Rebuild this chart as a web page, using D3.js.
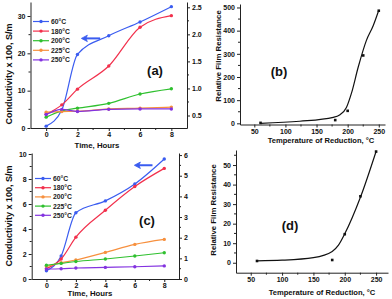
<!DOCTYPE html>
<html>
<head>
<meta charset="utf-8">
<script src="https://cdn.jsdelivr.net/npm/d3@7"></script>
<style>
  body { margin: 0; background: #fff; }
  svg { display: block; font-family: "Liberation Sans", Arial, sans-serif; font-weight: bold; }
  .axis path, .axis line { stroke: #222; }
  .axis text { font-size: 7px; font-weight: bold; fill: #111; font-family: "Liberation Sans", Arial, sans-serif; }
</style>
</head>
<body>
<svg id="chart" width="392" height="299"></svg>
<script>
// time axis for panels (a) and (c)
const hours = [0, 1, 2, 4, 6, 8];
const legendA = ["60°C", "180°C", "200°C", "225°C", "250°C"];
const legendC = ["60°C", "180°C", "200°C", "225°C", "250°C"];

// panel (a), conductivity x 100
const a60 = [0.5, 4.8, 19.7, 24.7, 28.4, 32.5];
const a180 = [3.7, 6.2, 10.4, 16.6, 27.0, 30.1];
const a200 = [2.9, 4.6, 5.3, 6.6, 9.1, 10.5];
const a225 = [4.25, 4.4, 4.5, 5.1, 5.3, 5.6];
const a250 = [3.6, 5.0, 4.4, 5.0, 5.1, 5.1];

// panel (c), conductivity x 100
const c60 = [0.66, 1.84, 5.3, 6.25, 7.6, 9.6];
const c180 = [0.83, 1.6, 3.35, 5.5, 7.4, 8.85];
const c200 = [1.0, 1.3, 1.52, 2.13, 2.77, 3.17];
const c225 = [1.1, 1.25, 1.4, 1.6, 1.84, 2.1];
const c250 = [0.8, 0.82, 0.88, 0.93, 0.98, 1.05];

// panels (b) and (d), relative film resistance vs temperature
const temps = [60, 180, 200, 225, 250];
const resB = [2, 14, 54, 293, 486];
const fitBx = [60, 123, 177, 187, 198, 206, 217, 230, 241, 250];
const fitBy = [0, 9, 26, 36, 68, 129, 243, 357, 421, 488];
const resD = [0.9, 1.4, 14.6, 34, 56.9];
const fitDx = [60, 100, 150, 180, 190, 200, 225, 250];
const fitDy = [1, 1.3, 2.6, 5.8, 9, 14.8, 33.5, 57];

const blue = "#3a5cf0", red = "#f2304c", green = "#2fc02f", orange = "#f7903e", purple = "#8332e0";
const colorsA = [blue, red, green, orange, purple];
const colorsC = [blue, red, orange, green, purple];

const svg = d3.select("#chart");

function minorTicks(g, scale, values, orient, size) {
    values.forEach(v => {
        const p = scale(v);
        if (orient === "left") g.append("line").attr("x1", 0).attr("x2", -size).attr("y1", p).attr("y2", p);
        if (orient === "right") g.append("line").attr("x1", 0).attr("x2", size).attr("y1", p).attr("y2", p);
        if (orient === "bottom") g.append("line").attr("y1", 0).attr("y2", size).attr("x1", p).attr("x2", p);
    });
    g.selectAll("line").attr("stroke", "#222");
}

function timePanel(opt) {
    const x = d3.scaleLinear().domain([-1, 9]).range([opt.left, opt.right]);
    const yL = d3.scaleLinear().domain(opt.yL).range([opt.bottom, opt.top]);
    const yR = d3.scaleLinear().domain(opt.yR).range([opt.bottom, opt.top]);

    const gx = svg.append("g").attr("class", "axis")
        .attr("transform", "translate(0," + opt.bottom + ")")
        .call(d3.axisBottom(x).tickValues([0, 2, 4, 6, 8]).tickSize(3).tickSizeOuter(0).tickPadding(1.5));
    minorTicks(gx.append("g"), x, [1, 3, 5, 7], "bottom", 2);

    const gl = svg.append("g").attr("class", "axis")
        .attr("transform", "translate(" + opt.left + ",0)")
        .call(d3.axisLeft(yL).tickValues(opt.ticksL).tickSize(3).tickSizeOuter(0).tickPadding(2));
    minorTicks(gl.append("g"), yL, opt.minorL, "left", 2);

    const gr = svg.append("g").attr("class", "axis")
        .attr("transform", "translate(" + opt.right + ",0)")
        .call(d3.axisRight(yR).tickValues(opt.ticksR).tickFormat(opt.fmtR).tickSize(3).tickSizeOuter(0).tickPadding(2));
    minorTicks(gr.append("g"), yR, opt.minorR, "right", 2);

    const line = d3.line().x((d, i) => x(hours[i])).y(d => yL(d)).curve(d3.curveMonotoneX);

    opt.series.forEach((s, k) => {
        svg.append("path").attr("d", line(s)).attr("fill", "none")
            .attr("stroke", opt.colors[k]).attr("stroke-width", 1.2);
        svg.append("g").selectAll("circle").data(s).enter().append("circle")
            .attr("cx", (d, i) => x(hours[i])).attr("cy", d => yL(d))
            .attr("r", 1.7).attr("fill", opt.colors[k]);
    });

    // legend
    opt.legend.forEach((t, k) => {
        const y = opt.legY + k * opt.legStep;
        svg.append("line").attr("x1", opt.legX).attr("x2", opt.legX + 16).attr("y1", y).attr("y2", y)
            .attr("stroke", opt.colors[k]).attr("stroke-width", 1.2);
        svg.append("circle").attr("cx", opt.legX + 8).attr("cy", y).attr("r", 1.7).attr("fill", opt.colors[k]);
        svg.append("text").attr("x", opt.legX + 18).attr("y", y + 2.5)
            .style("font-size", "6.8px").attr("fill", "#222").text(t);
    });

    // arrow pointing to the left axis
    const ax0 = x(opt.arrow[0]), ax1 = x(opt.arrow[1]), ay = yL(opt.arrow[2]);
    svg.append("line").attr("x1", ax0).attr("x2", ax1 + 4).attr("y1", ay).attr("y2", ay)
        .attr("stroke", blue).attr("stroke-width", 2);
    svg.append("path")
        .attr("d", "M" + ax1 + "," + ay + "L" + (ax1 + 6) + "," + (ay - 3.2) + "L" + (ax1 + 4.5) + "," + ay + "L" + (ax1 + 6) + "," + (ay + 3.2) + "Z")
        .attr("fill", blue).attr("stroke", blue).attr("stroke-width", 0.8);

    svg.append("text").attr("x", opt.tag[0]).attr("y", opt.tag[1] + 4.5).attr("text-anchor", "middle")
        .style("font-size", "13px").attr("fill", "#111").text(opt.label);

    svg.append("text").attr("transform", "translate(" + opt.yTitle[0] + "," + opt.yTitle[1] + ") rotate(-90)")
        .attr("text-anchor", "middle").attr("dy", "0.35em")
        .style("font-size", "9px").attr("fill", "#111").text("Conductivity x 100, S/m");

    svg.append("text").attr("x", opt.xTitle[0]).attr("y", opt.xTitle[1]).attr("text-anchor", "middle")
        .attr("dy", "0.35em").style("font-size", "7.8px").attr("fill", "#111").text("Time, Hours");
}

function tempPanel(opt) {
    const x = d3.scaleLinear().domain(opt.xd).range([opt.left, opt.right]);
    const y = d3.scaleLinear().domain(opt.yd).range([opt.bottom, opt.top]);

    const gx = svg.append("g").attr("class", "axis")
        .attr("transform", "translate(0," + opt.bottom + ")")
        .call(d3.axisBottom(x).tickValues([50, 100, 150, 200, 250]).tickSize(3).tickSizeOuter(0).tickPadding(1.5));
    minorTicks(gx.append("g"), x, [75, 125, 175, 225], "bottom", 2);

    const gy = svg.append("g").attr("class", "axis")
        .attr("transform", "translate(" + opt.left + ",0)")
        .call(d3.axisLeft(y).tickValues(opt.ticks).tickSize(3).tickSizeOuter(0).tickPadding(2));
    minorTicks(gy.append("g"), y, opt.minor, "left", 2);

    const line = d3.line().x((d, i) => x(opt.fx[i])).y(d => y(d)).curve(d3.curveMonotoneX);
    svg.append("path").attr("d", line(opt.fy)).attr("fill", "none")
        .attr("stroke", "#111").attr("stroke-width", 1.2);

    svg.append("g").selectAll("rect").data(opt.res).enter().append("rect")
        .attr("x", (d, i) => x(temps[i]) - 1.3).attr("y", d => y(d) - 1.3)
        .attr("width", 2.6).attr("height", 2.6).attr("fill", "#111");

    svg.append("text").attr("x", opt.tag[0]).attr("y", opt.tag[1] + 4.5).attr("text-anchor", "middle")
        .style("font-size", "13px").attr("fill", "#111").text(opt.label);

    svg.append("text").attr("transform", "translate(" + opt.yTitle[0] + "," + opt.yTitle[1] + ") rotate(-90)")
        .attr("text-anchor", "middle").attr("dy", "0.35em")
        .style("font-size", "7.8px").attr("fill", "#111").text("Relative Film Resistance");

    svg.append("text").attr("x", opt.xTitle[0]).attr("y", opt.xTitle[1]).attr("text-anchor", "middle")
        .attr("dy", "0.35em").style("font-size", "7.6px").attr("fill", "#111").text("Temperature of Reduction, °C");
}

timePanel({
    left: 30.5, right: 187, top: 2, bottom: 128,
    yL: [0, 33.75], yR: [0.269, 2.598],
    ticksL: [0, 10, 20, 30], minorL: [5, 15, 25],
    ticksR: [0.5, 1.0, 1.5, 2.0, 2.5], minorR: [0.75, 1.25, 1.75, 2.25], fmtR: d3.format(".1f"),
    series: [a60, a180, a200, a225, a250], colors: colorsA, legend: legendA,
    legX: 33, legY: 21.5, legStep: 9.6,
    arrow: [3.45, 2.25, 24], tag: [155, 70], label: "(a)",
    yTitle: [9, 74], xTitle: [97, 145.5]
});

timePanel({
    left: 31.7, right: 179, top: 153, bottom: 279,
    yL: [0, 10.08], yR: [0, 6.1],
    ticksL: [0, 2, 4, 6, 8, 10], minorL: [1, 3, 5, 7, 9],
    ticksR: [0, 1, 2, 3, 4, 5, 6], minorR: [0.5, 1.5, 2.5, 3.5, 4.5, 5.5], fmtR: d3.format("d"),
    series: [c60, c180, c200, c225, c250], colors: colorsC, legend: legendC,
    legX: 35, legY: 178.5, legStep: 9.2,
    arrow: [7.2, 5.97, 9.1], tag: [147, 220], label: "(c)",
    yTitle: [9, 216], xTitle: [90, 293.5]
});

tempPanel({
    left: 240, right: 385, top: 4, bottom: 124.5,
    xd: [27, 260], yd: [-5, 515],
    ticks: [0, 100, 200, 300, 400, 500], minor: [50, 150, 250, 350, 450],
    fx: fitBx, fy: fitBy, res: resB,
    tag: [279, 71], label: "(b)", yTitle: [218, 56], xTitle: [321, 140.5]
});

tempPanel({
    left: 236, right: 388, top: 150, bottom: 272.7,
    xd: [26.5, 269], yd: [-5.1, 57.7],
    ticks: [0, 10, 20, 30, 40, 50], minor: [5, 15, 25, 35, 45, 55],
    fx: fitDx, fy: fitDy, res: resD,
    tag: [290, 225], label: "(d)", yTitle: [213, 210], xTitle: [322, 292]
});
</script>
</body>
</html>
